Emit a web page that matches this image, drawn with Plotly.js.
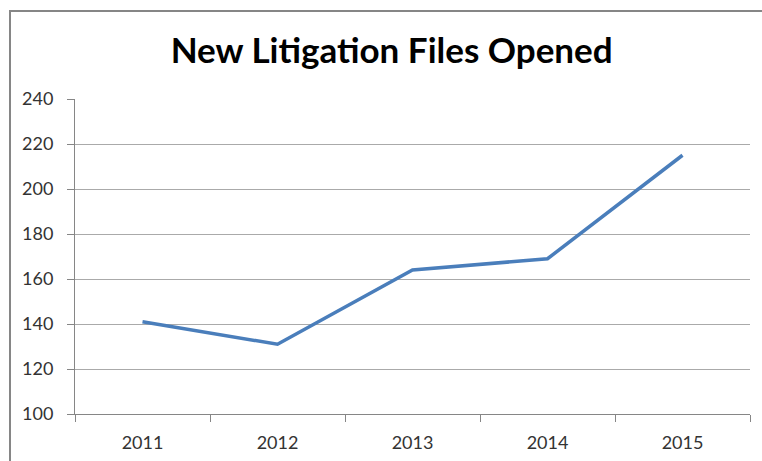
<!DOCTYPE html>
<html>
<head>
<meta charset="utf-8">
<script src="https://cdn.plot.ly/plotly-3.0.1.min.js"></script>
<style>
html,body{margin:0;padding:0;background:#fff;overflow:hidden;}
#wrap{position:relative;width:762px;height:461px;overflow:hidden;}
#chart{position:absolute;left:0;top:0;width:762px;height:461px;}
.fr{position:absolute;background:#868686;pointer-events:none;}
#frTop{left:9px;top:10px;width:753px;height:2px;}
#frLeft{left:9px;top:10px;width:2px;height:451px;}
</style>
</head>
<body>
<div id="wrap">
<div id="chart"></div>
<div id="frTop" class="fr"></div>
<div id="frLeft" class="fr"></div>
</div>
<script>
const years = ["2011", "2012", "2013", "2014", "2015"];
const filesOpened = [141, 131, 164, 169, 215];
const yTicks = [100, 120, 140, 160, 180, 200, 220, 240];

const trace = {
  x: years,
  y: filesOpened,
  type: "scatter",
  mode: "lines",
  line: {color: "#4a7ebb", width: 3.5},
  hoverinfo: "x+y"
};

const fontFam = "Lato, 'Open Sans', sans-serif";

const layout = {
  width: 762,
  height: 461,
  margin: {l: 75, r: 12, t: 99, b: 47},
  paper_bgcolor: "rgba(0,0,0,0)",
  plot_bgcolor: "#ffffff",
  showlegend: false,
  title: {
    text: "<b>New Litigation Files Opened</b>",
    font: {family: fontFam, size: 35, color: "#000000"},
    x: 0.514, xanchor: "center",
    y: 0.89, yanchor: "middle"
  },
  xaxis: {
    type: "category",
    range: [-0.5, 4.5],
    tickson: "boundaries",
    ticks: "outside",
    ticklen: 7,
    tickcolor: "#868686",
    ticklabelstandoff: 12,
    showgrid: false,
    showline: true,
    linecolor: "#868686",
    linewidth: 1,
    tickfont: {family: fontFam, size: 18, color: "#333333"},
    fixedrange: true
  },
  yaxis: {
    range: [100, 240],
    tickvals: yTicks,
    ticktext: yTicks.map(String),
    ticks: "outside",
    ticklen: 7,
    tickcolor: "#868686",
    ticklabelstandoff: 10,
    showgrid: true,
    gridcolor: "#aaaaaa",
    gridwidth: 1,
    showline: true,
    linecolor: "#868686",
    linewidth: 1,
    zeroline: false,
    tickfont: {family: fontFam, size: 18, color: "#333333"},
    fixedrange: true
  }
};

Plotly.newPlot("chart", [trace], layout, {displayModeBar: false, staticPlot: true});
</script>
</body>
</html>
